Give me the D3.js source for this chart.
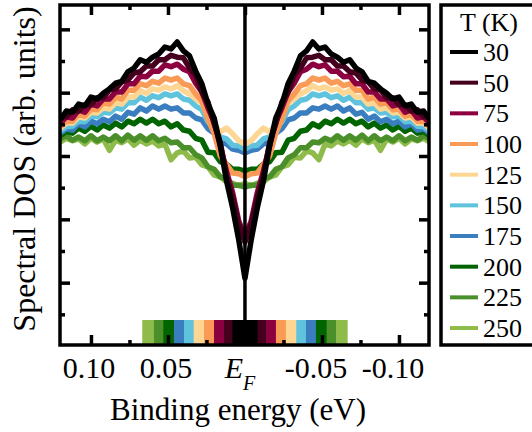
<!DOCTYPE html>
<html>
<head>
    <meta charset="utf-8">
    <title>Spectral DOS vs binding energy</title>
    <script src="https://cdn.jsdelivr.net/npm/d3@7/dist/d3.min.js"></script>
    <style>
        body { margin: 0; background: #fff; }
        svg, svg text, svg tspan { font-family: "Liberation Serif", Tinos, "Times New Roman", Times, "DejaVu Serif", serif !important; }
    </style>
</head>
<body>
<script type="text/javascript">
    // binding energy grid (eV), read on the positive side; data are symmetrized about E_F
    var energies = [0, 0.004, 0.008, 0.012, 0.016, 0.020, 0.024, 0.028, 0.032, 0.036,
        0.040, 0.044, 0.048, 0.052, 0.056, 0.060, 0.064, 0.068, 0.072, 0.076,
        0.080, 0.084, 0.088, 0.092, 0.096, 0.100, 0.104, 0.108, 0.112, 0.116, 0.120];

    var temps = [30, 50, 75, 100, 125, 150, 175, 200, 225, 250];
    var colors = ["#000000", "#45001d", "#8c0040", "#f99a57", "#fdd694",
                  "#60c3dd", "#3a7ebf", "#006400", "#4b8f2a", "#8fbb4b"];

    // spectral DOS (arb. units) at each energy above
    var dos30  = [10.7, 16.7, 21.8, 26.1, 31.6, 36.0, 38.2, 41.4, 43.4, 45.8, 46.6, 48.0, 46.9, 47.2, 46.1, 45.6, 44.8, 45.2, 43.9, 43.3, 41.8, 41.5, 40.6, 39.9, 39.0, 39.3, 37.9, 38.2, 36.9, 37.1, 35.7];
    var dos50  = [16.4, 19.1, 23.4, 26.8, 32.1, 35.1, 38.5, 40.1, 42.8, 43.9, 45.5, 45.6, 45.9, 45.2, 45.2, 44.2, 44.2, 43.3, 43.1, 42.0, 41.7, 40.6, 40.4, 39.2, 39.2, 38.1, 38.1, 37.1, 37.3, 36.2, 36.3];
    var dos75  = [17.4, 19.7, 24.2, 27.6, 31.6, 35.4, 37.6, 40.1, 41.5, 43.3, 43.7, 44.5, 44.1, 44.4, 43.4, 43.4, 42.5, 42.6, 41.4, 41.4, 40.1, 40.1, 39.0, 39.0, 37.9, 38.2, 36.9, 37.3, 36.0, 36.2, 35.1];
    var dos100 = [26.7, 27.2, 27.3, 28.7, 30.0, 33.6, 35.8, 38.7, 39.8, 41.1, 41.4, 42.3, 42.0, 42.3, 41.5, 41.8, 41.1, 41.4, 40.4, 40.4, 39.0, 39.3, 38.2, 38.4, 37.3, 37.4, 36.3, 36.6, 35.5, 35.5, 34.6];
    var dos125 = [31.9, 32.4, 33.5, 34.4, 33.8, 34.9, 36.3, 38.4, 39.0, 39.8, 40.3, 41.1, 40.6, 40.9, 40.4, 40.6, 39.9, 40.3, 39.3, 39.3, 38.2, 38.4, 37.4, 37.6, 36.8, 36.9, 36.0, 36.2, 35.2, 35.2, 34.3];
    var dos150 = [31.1, 31.6, 31.7, 32.7, 33.0, 34.4, 35.4, 37.3, 37.9, 38.8, 39.0, 39.8, 39.5, 39.8, 39.2, 39.5, 38.8, 39.3, 38.4, 38.4, 37.4, 37.6, 36.8, 36.9, 36.2, 36.3, 35.4, 35.5, 34.7, 34.6, 33.9];
    var dos175 = [30.5, 30.9, 31.1, 31.9, 32.2, 33.6, 34.3, 35.7, 36.0, 36.8, 36.8, 37.6, 37.4, 37.9, 37.4, 37.9, 37.1, 37.6, 36.6, 36.9, 35.8, 36.3, 35.4, 35.8, 35.1, 35.5, 34.6, 35.1, 34.1, 34.3, 33.6];
    var dos200 = [27.6, 27.9, 27.9, 28.7, 29.1, 30.5, 30.6, 32.5, 32.8, 33.9, 34.1, 35.1, 34.6, 35.5, 35.1, 35.8, 35.2, 35.8, 35.1, 35.5, 34.6, 35.2, 34.4, 34.9, 34.1, 34.7, 33.9, 34.4, 33.6, 33.9, 33.2];
    var dos225 = [25.1, 25.4, 25.4, 26.4, 26.7, 27.9, 28.3, 29.7, 30.2, 31.3, 31.3, 32.2, 32.1, 32.8, 32.4, 33.2, 32.5, 33.2, 32.5, 33.3, 32.4, 33.2, 32.4, 33.0, 32.4, 33.2, 32.4, 33.0, 32.5, 33.2, 32.7];
    var dos250 = [25.7, 25.3, 25.7, 25.9, 26.7, 27.0, 28.3, 28.6, 29.8, 29.7, 30.8, 30.5, 29.4, 31.9, 31.6, 32.4, 31.9, 32.5, 31.7, 32.7, 32.1, 32.5, 30.9, 32.7, 32.2, 32.8, 31.9, 32.7, 32.4, 32.8, 32.2];
    var series = [dos30, dos50, dos75, dos100, dos125, dos150, dos175, dos200, dos225, dos250];

    // half-widths (eV) of the temperature windows in the bar above the axis
    var windows = [0.0082, 0.0136, 0.0201, 0.0266, 0.0333, 0.0396, 0.0461, 0.0530, 0.0591, 0.0667];

    var xMajor = [0.10, 0.05, 0, -0.05, -0.10];
    var xMinor = [0.075, 0.025, -0.025, -0.075];
    var yMajor = [10, 20, 30, 40, 50];
    var yMinor = [5, 15, 25, 35, 45];

    var width = 532, height = 432,
        pLeft = 60, pRight = 429, pTop = 5, pBottom = 345;

    var x = d3.scaleLinear().domain([0.1201, -0.1195]).range([pLeft, pRight]);
    var y = d3.scaleLinear().domain([0, 54]).range([346, 4]);

    var svg = d3.select("body").append("svg")
        .attr("width", width).attr("height", height);

    svg.append("clipPath").attr("id", "plot")
        .append("rect")
        .attr("x", pLeft).attr("y", pTop)
        .attr("width", pRight - pLeft).attr("height", pBottom - pTop);

    // temperature window bar
    var barH = 25;
    svg.append("g").selectAll("rect")
        .data(d3.range(temps.length).reverse())
        .enter().append("rect")
        .attr("x", function(i) { return x(windows[i]); })
        .attr("width", function(i) { return x(-windows[i]) - x(windows[i]); })
        .attr("y", pBottom - barH)
        .attr("height", barH)
        .attr("fill", function(i) { return colors[i]; });

    // curves, symmetrized about E_F
    function fullCurve(vals) {
        var pts = [];
        for (var i = energies.length - 1; i >= 0; i--) pts.push([energies[i], vals[i]]);
        for (var j = 1; j < energies.length; j++) pts.push([-energies[j], vals[j]]);
        return pts;
    }

    var line = d3.line()
        .x(function(d) { return x(d[0]); })
        .y(function(d) { return y(d[1]); });

    svg.append("g").attr("clip-path", "url(#plot)")
        .selectAll("path")
        .data(d3.range(series.length).reverse())
        .enter().append("path")
        .attr("d", function(i) { return line(fullCurve(series[i])); })
        .attr("fill", "none")
        .attr("stroke", function(i) { return colors[i]; })
        .attr("stroke-width", 5.5)
        .attr("stroke-linejoin", "round");

    // E_F line
    svg.append("line")
        .attr("x1", x(0)).attr("x2", x(0))
        .attr("y1", pTop).attr("y2", pBottom)
        .attr("stroke", "#000").attr("stroke-width", 3.5);

    // ticks pointing inward
    function ticks(axis, tx, ty) {
        var g = svg.append("g")
            .attr("transform", "translate(" + tx + "," + ty + ")")
            .call(axis);
        g.select(".domain").remove();
        g.selectAll(".tick line").attr("stroke", "#000").attr("stroke-width", 3.5);
        return g;
    }

    ticks(d3.axisBottom(x).tickValues(xMajor).tickSize(-10).tickFormat(""), 0, pBottom);
    ticks(d3.axisBottom(x).tickValues(xMinor).tickSize(-5).tickFormat(""), 0, pBottom);
    ticks(d3.axisTop(x).tickValues(xMajor).tickSize(-10).tickFormat(""), 0, pTop);
    ticks(d3.axisTop(x).tickValues(xMinor).tickSize(-5).tickFormat(""), 0, pTop);
    ticks(d3.axisLeft(y).tickValues(yMajor).tickSize(-10).tickFormat(""), pLeft, 0);
    ticks(d3.axisLeft(y).tickValues(yMinor).tickSize(-5).tickFormat(""), pLeft, 0);
    ticks(d3.axisRight(y).tickValues(yMajor).tickSize(-10).tickFormat(""), pRight, 0);
    ticks(d3.axisRight(y).tickValues(yMinor).tickSize(-5).tickFormat(""), pRight, 0);

    // frame
    svg.append("rect")
        .attr("x", pLeft).attr("y", pTop)
        .attr("width", pRight - pLeft).attr("height", pBottom - pTop)
        .attr("fill", "none").attr("stroke", "#000").attr("stroke-width", 3.5);

    // tick labels
    var labels = svg.append("g").attr("font-size", 30).attr("text-anchor", "middle");
    xMajor.forEach(function(v) {
        var t = labels.append("text")
            .attr("x", x(v) + (v < 0 ? -6 : v > 0 ? -2 : -5))
            .attr("y", 378);
        if (v === 0) {
            t.append("tspan").attr("font-style", "italic").text("E");
            t.append("tspan").attr("font-size", 20).attr("font-style", "italic")
                .attr("dy", 12).text("F");
        } else {
            t.text(v.toFixed(2));
        }
    });

    svg.append("text")
        .attr("x", 238).attr("y", 420)
        .attr("font-size", 31).attr("text-anchor", "middle")
        .text("Binding energy (eV)");

    svg.append("text")
        .attr("transform", "translate(35,169) rotate(-90)")
        .attr("font-size", 32).attr("text-anchor", "middle")
        .text("Spectral DOS (arb. units)");

    // legend
    var lg = svg.append("g");
    lg.append("rect")
        .attr("x", 441).attr("y", 5)
        .attr("width", 120).attr("height", 340)
        .attr("fill", "#fff").attr("stroke", "#000").attr("stroke-width", 3.5);
    lg.append("text")
        .attr("x", 489).attr("y", 31)
        .attr("font-size", 26).attr("text-anchor", "middle")
        .text("T (K)");
    temps.forEach(function(t, i) {
        var cy = 52 + i * 30.67;
        lg.append("line")
            .attr("x1", 450).attr("x2", 478)
            .attr("y1", cy).attr("y2", cy)
            .attr("stroke", colors[i]).attr("stroke-width", 4);
        lg.append("text")
            .attr("x", 483).attr("y", cy + 9)
            .attr("font-size", 26)
            .text(t);
    });
</script>
</body>
</html>
